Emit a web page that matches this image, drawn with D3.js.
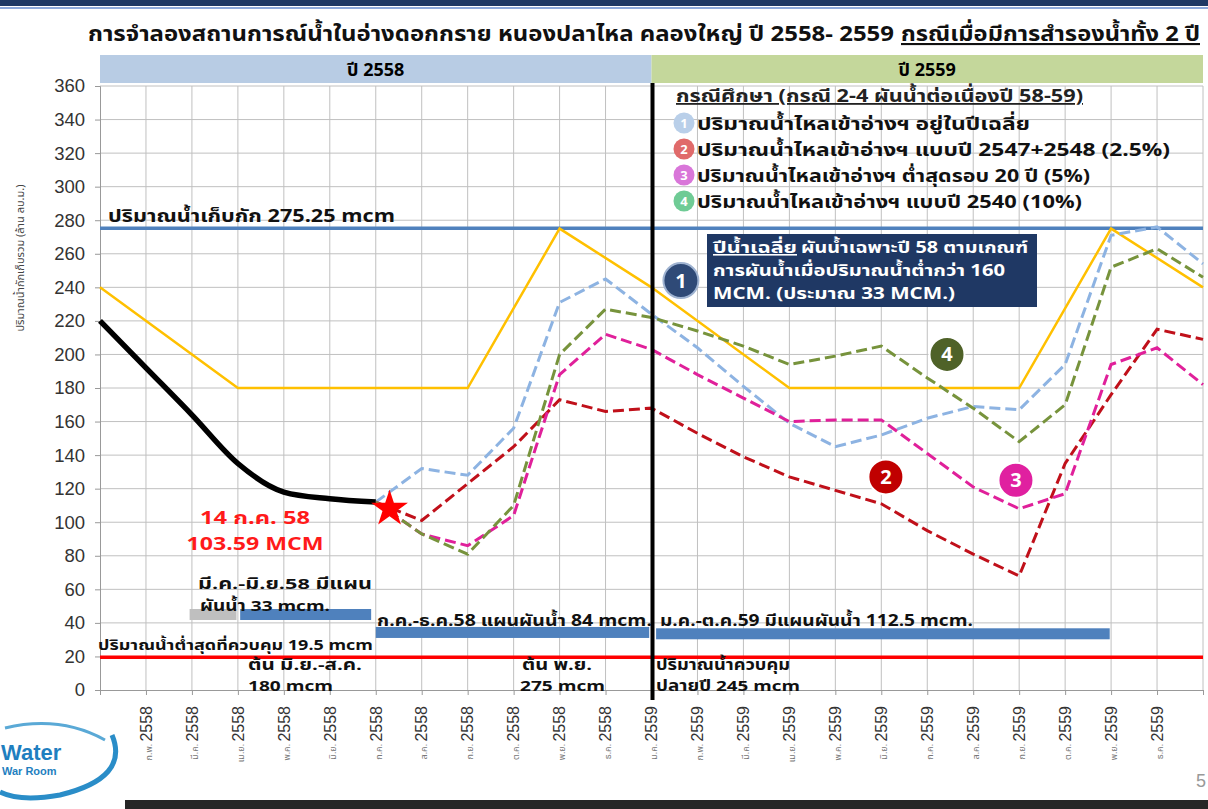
<!DOCTYPE html>
<html>
<head>
<meta charset="utf-8">
<script src="https://d3js.org/d3.v7.min.js"></script>
<style>
  body { margin: 0; background: #fff; }
  svg { display: block; }
  text { font-family: Tahoma, "Noto Sans Thai", "Noto Sans", "DejaVu Sans", sans-serif; }
</style>
</head>
<body>
<svg id="chart" width="1208" height="809"></svg>
<script>
// months along the x axis, ม.ค. 2558 .. ม.ค. 2560
const monthNames = ["ม.ค.", "ก.พ.", "มี.ค.", "เม.ย.", "พ.ค.", "มิ.ย.", "ก.ค.", "ส.ค.", "ก.ย.", "ต.ค.", "พ.ย.", "ธ.ค."];
const months = d3.range(25).map(i => ({ name: monthNames[i % 12], year: 2558 + Math.floor(i / 12) }));
const yTicks = d3.range(0, 361, 20);

// observed storage (black), ม.ค.-ก.ค. 2558
const observed = [220, 192, 164, 135, 118, 114, 112];
// rule curve (yellow): vertex month index and value
const ruleIdx = [0, 3, 8, 10, 12, 15, 20, 22, 24];
const ruleVal = [240, 180, 180, 275, 240, 180, 180, 275, 240];
// simulated cases, ก.ค. 2558 (index 6) .. ม.ค. 2560 (index 24)
const case1 = [112, 132, 128, 156, 231, 245, 224, 204, 181, 159, 145, 152, 162, 169, 167, 194, 271, 276, 254];
const case2 = [112, 101, 123, 145, 173, 166, 168, 153, 139, 127, 119, 111, 95, 81, 68, 135, 176, 215, 209];
const case3 = [112, 93, 86, 104, 188, 212, 203, 188, 174, 160, 161, 161, 141, 121, 108, 117, 194, 204, 182];
const case4 = [112, 93, 81, 110, 200, 227, 222, 214, 205, 194, 199, 205, 186, 168, 148, 170, 252, 263, 246];
const caseStart = 6;
const caseColors = ["#8db3e2", "#c0101a", "#e0209a", "#77933c"];
const legendColors = ["#b9cfe9", "#e06a6a", "#d976d9", "#6fcb95"];
const legendLabels = [
  "ปริมาณน้ำไหลเข้าอ่างฯ อยู่ในปีเฉลี่ย",
  "ปริมาณน้ำไหลเข้าอ่างฯ แบบปี 2547+2548 (2.5%)",
  "ปริมาณน้ำไหลเข้าอ่างฯ ต่ำสุดรอบ 20 ปี (5%)",
  "ปริมาณน้ำไหลเข้าอ่างฯ แบบปี 2540 (10%)"
];
const legendWidths = [333, 473, 393, 385];
const badgeColors = ["#2f4a77", "#c00000", "#e020a0", "#4f6228"];
const badgeX = [12.64, 17.1, 19.93, 18.43];
const badgeV = [244, 127, 125, 200];
const storageCap = 275.25;
const minControl = 19.5;
// release plans: start index, end index, value
const planStart = [1.95, 3.05, 6, 12.1];
const planEnd = [2.97, 5.9, 11.95, 21.97];
const planVal = [45, 45, 34.3, 33.5];
const planColor = ["#bfbfbf", "#4f81bd", "#4f81bd", "#4f81bd"];
const starIdx = 6.3, starVal = 108;

const svg = d3.select("#chart");
const x = d3.scaleLinear().domain([0, 24]).range([100, 1203]);
const y = d3.scaleLinear().domain([0, 360]).range([690, 86]);

// page decoration
svg.append("rect").attr("x", 0).attr("y", 0).attr("width", 1208).attr("height", 6).attr("fill", "#1f3864");
svg.append("rect").attr("x", 0).attr("y", 7).attr("width", 1208).attr("height", 2).attr("fill", "#8ea9db");
svg.append("rect").attr("x", 125).attr("y", 800).attr("width", 1083).attr("height", 9).attr("fill", "#262626");

// title
const title = svg.append("text").attr("y", 41)
  .attr("font-size", 21).attr("font-weight", "bold").attr("fill", "#111");
title.append("tspan").attr("x", 88).attr("textLength", 806).attr("lengthAdjust", "spacingAndGlyphs")
  .text("การจำลองสถานการณ์น้ำในอ่างดอกกราย หนองปลาไหล คลองใหญ่ ปี 2558- 2559");
title.append("tspan").attr("x", 901).attr("textLength", 299).attr("lengthAdjust", "spacingAndGlyphs")
  .attr("text-decoration", "underline").text("กรณีเมื่อมีการสำรองน้ำทั้ง 2 ปี");

// year bands
svg.append("rect").attr("x", x(0)).attr("y", 55).attr("width", x(12) - x(0)).attr("height", 28).attr("fill", "#b8cce4");
svg.append("rect").attr("x", x(12)).attr("y", 55).attr("width", x(24) - x(12)).attr("height", 28).attr("fill", "#c4d79b");
svg.append("text").attr("x", (x(0) + x(12)) / 2).attr("y", 76).attr("text-anchor", "middle")
  .attr("font-size", 18).attr("font-weight", "bold").text("ปี 2558");
svg.append("text").attr("x", (x(12) + x(24)) / 2).attr("y", 76).attr("text-anchor", "middle")
  .attr("font-size", 18).attr("font-weight", "bold").text("ปี 2559");

// grid
svg.append("g").selectAll("line").data(yTicks.slice(1)).join("line")
  .attr("x1", x(0)).attr("x2", x(24)).attr("y1", d => y(d)).attr("y2", d => y(d))
  .attr("stroke", "#c0c0c0");
svg.append("g").selectAll("line").data(d3.range(1, 25)).join("line")
  .attr("x1", d => x(d)).attr("x2", d => x(d)).attr("y1", y(0)).attr("y2", y(360))
  .attr("stroke", "#c0c0c0");

// axes
const yAxis = svg.append("g").attr("transform", `translate(${x(0)},0)`)
  .call(d3.axisLeft(y).tickValues(yTicks).tickSize(5).tickPadding(10));
yAxis.selectAll("text").attr("font-size", 18.5).attr("fill", "#333").style("font-family", "Arial, 'Liberation Sans', sans-serif");
yAxis.selectAll("line, path").attr("stroke", "#999");

const xAxis = svg.append("g").attr("transform", `translate(0,${y(0)})`)
  .call(d3.axisBottom(x).tickValues(d3.range(0, 25)).tickSize(5).tickFormat(""));
xAxis.selectAll("line, path").attr("stroke", "#999");

const xLab = svg.append("g").selectAll("text").data(months.slice(1, 24)).join("text")
  .attr("transform", (d, i) => `translate(${x(i + 1)},706) rotate(-90)`)
  .attr("text-anchor", "end").attr("dy", "0.36em");
xLab.append("tspan").attr("font-size", 9).attr("fill", "#777").text(d => d.name + "   ");
xLab.append("tspan").attr("font-size", 16).attr("fill", "#333")
  .style("font-family", "Arial, 'Liberation Sans', sans-serif").text(d => d.year);

// y axis title
svg.append("text").attr("transform", "translate(24,258) rotate(-90)").attr("text-anchor", "middle")
  .attr("font-size", 11).attr("fill", "#444").text("ปริมาณน้ำกักเก็บรวม (ล้าน ลบ.ม.)");

// reference lines
svg.append("line").attr("x1", x(0)).attr("x2", x(24)).attr("y1", y(storageCap)).attr("y2", y(storageCap))
  .attr("stroke", "#4f81bd").attr("stroke-width", 3.5);
svg.append("line").attr("x1", x(0)).attr("x2", x(24)).attr("y1", y(minControl)).attr("y2", y(minControl))
  .attr("stroke", "#ff0000").attr("stroke-width", 3.5);

// plan bars
svg.append("g").selectAll("rect").data(planStart).join("rect")
  .attr("x", d => x(d)).attr("width", (d, i) => x(planEnd[i]) - x(d))
  .attr("y", (d, i) => y(planVal[i]) - 5.5).attr("height", 11)
  .attr("fill", (d, i) => planColor[i]);

// rule curve
const line = d3.line().x(d => x(d[0])).y(d => y(d[1]));
svg.append("path").datum(ruleIdx.map((d, i) => [d, ruleVal[i]]))
  .attr("d", line).attr("fill", "none").attr("stroke", "#ffc000").attr("stroke-width", 2.5);

// case lines
[case1, case2, case3, case4].forEach((vals, k) => {
  svg.append("path").datum(vals.map((v, i) => [caseStart + i, v]))
    .attr("d", line).attr("fill", "none").attr("stroke", caseColors[k])
    .attr("stroke-width", 3).attr("stroke-dasharray", "11,5");
});

// observed
const smooth = d3.line().x(d => x(d[0])).y(d => y(d[1])).curve(d3.curveMonotoneX);
svg.append("path").datum(observed.map((v, i) => [i, v]))
  .attr("d", smooth).attr("fill", "none").attr("stroke", "#000").attr("stroke-width", 5.5);

// year divider
svg.append("line").attr("x1", x(12) + 1).attr("x2", x(12) + 1).attr("y1", 83).attr("y2", 700)
  .attr("stroke", "#000").attr("stroke-width", 4);

// star marker
svg.append("path").attr("d", d3.symbol(d3.symbolStar, 420)())
  .attr("transform", `translate(${x(starIdx)},${y(starVal)})`).attr("fill", "#ff0000");

// annotations
const note = (tx, ty, str, opt = {}) => {
  const t = svg.append("text").attr("x", tx).attr("y", ty)
    .attr("font-size", opt.size || 16).attr("font-weight", opt.weight || "bold")
    .attr("fill", opt.fill || "#111").attr("text-anchor", opt.anchor || "start").text(str);
  if (opt.len) t.attr("textLength", opt.len).attr("lengthAdjust", "spacingAndGlyphs");
  return t;
};

note(108, 222, "ปริมาณน้ำเก็บกัก 275.25 mcm", { size: 17, len: 287 });
note(255, 524, "14 ก.ค. 58", { size: 18, fill: "#ff1a1a", anchor: "middle", len: 110 });
note(255, 550, "103.59 MCM", { size: 18, fill: "#ff1a1a", anchor: "middle", len: 137 });
note(198, 589, "มี.ค.-มิ.ย.58 มีแผน", { size: 15, len: 174 });
note(200, 611, "ผันน้ำ 33 mcm.", { size: 15, len: 130 });
note(377, 626, "ก.ค.-ธ.ค.58 แผนผันน้ำ 84 mcm.", { size: 16, len: 275 });
note(660, 626, "ม.ค.-ต.ค.59 มีแผนผันน้ำ 112.5 mcm.", { size: 16, len: 313 });
note(98, 650, "ปริมาณน้ำต่ำสุดที่ควบคุม  19.5 mcm", { size: 14, len: 275 });
note(248, 670, "ต้น มิ.ย.-ส.ค.", { size: 15, len: 114 });
note(248, 691, "180 mcm", { size: 15, len: 85 });
note(522, 670, "ต้น พ.ย.", { size: 15, len: 70 });
note(520, 691, "275 mcm", { size: 15, len: 85 });
note(656, 670, "ปริมาณน้ำควบคุม", { size: 15, len: 134 });
note(656, 691, "ปลายปี 245 mcm", { size: 15, len: 144 });

// legend
const lg = svg.append("g");
lg.append("text").attr("x", 676).attr("y", 102).attr("font-size", 18).attr("font-weight", "bold")
  .attr("text-decoration", "underline").attr("fill", "#222")
  .attr("textLength", 407).attr("lengthAdjust", "spacingAndGlyphs")
  .text("กรณีศึกษา (กรณี 2-4 ผันน้ำต่อเนื่องปี 58-59)");
legendLabels.forEach((t, k) => {
  const cy = 123 + k * 26;
  lg.append("circle").attr("cx", 684).attr("cy", cy).attr("r", 10.5).attr("fill", legendColors[k]);
  lg.append("text").attr("x", 684).attr("y", cy + 5).attr("text-anchor", "middle").attr("font-size", 13)
    .attr("font-weight", "bold").attr("fill", "#fff").text(k + 1);
  lg.append("text").attr("x", 697).attr("y", cy + 7).attr("font-size", 18).attr("font-weight", "bold")
    .attr("fill", "#111").attr("textLength", legendWidths[k]).attr("lengthAdjust", "spacingAndGlyphs").text(t);
});

// callout box
svg.append("rect").attr("x", 707).attr("y", 234).attr("width", 330).attr("height", 73).attr("fill", "#1f3864");
const cb = svg.append("text").attr("y", 253).attr("font-size", 16).attr("font-weight", "bold").attr("fill", "#fff");
cb.append("tspan").attr("x", 713).attr("text-decoration", "underline").attr("textLength", 84)
  .attr("lengthAdjust", "spacingAndGlyphs").text("ปีน้ำเฉลี่ย");
cb.append("tspan").attr("x", 801).attr("textLength", 227).attr("lengthAdjust", "spacingAndGlyphs")
  .text("ผันน้ำเฉพาะปี 58 ตามเกณฑ์");
note(713, 276, "การผันน้ำเมื่อปริมาณน้ำต่ำกว่า 160", { fill: "#fff", len: 292 });
note(713, 299, "MCM. (ประมาณ 33 MCM.)", { fill: "#fff", len: 242 });

// numbered badges
badgeX.forEach((bx, k) => {
  svg.append("circle").attr("cx", x(bx)).attr("cy", y(badgeV[k])).attr("r", 17.5)
    .attr("fill", badgeColors[k]).attr("stroke", k === 0 ? "#9fb3d1" : "#fff").attr("stroke-width", 2);
  svg.append("text").attr("x", x(bx)).attr("y", y(badgeV[k]) + 7).attr("text-anchor", "middle")
    .attr("font-size", 20).attr("font-weight", "bold").attr("fill", "#fff").text(k + 1);
});

// logo
const logo = svg.append("g");
logo.append("path").attr("d", "M5,728 Q60,715 105,740").attr("fill", "none").attr("stroke", "#5aa9d6").attr("stroke-width", 3);
logo.append("path").attr("d", "M112,735 Q130,778 60,795 Q20,802 0,792").attr("fill", "none").attr("stroke", "#2a8dc8").attr("stroke-width", 5);
logo.append("text").attr("x", 1).attr("y", 760).attr("font-size", 22).attr("font-weight", "bold")
  .attr("fill", "#1f7fc0").style("font-family", "Arial, 'Liberation Sans', sans-serif").text("Water");
logo.append("text").attr("x", 2).attr("y", 775).attr("font-size", 11).attr("font-weight", "bold")
  .attr("fill", "#1f7fc0").style("font-family", "Arial, 'Liberation Sans', sans-serif").text("War Room");

svg.append("text").attr("x", 1196).attr("y", 787).attr("font-size", 18).attr("fill", "#999")
  .style("font-family", "Arial, 'Liberation Sans', sans-serif").text("5");
</script>
</body>
</html>
